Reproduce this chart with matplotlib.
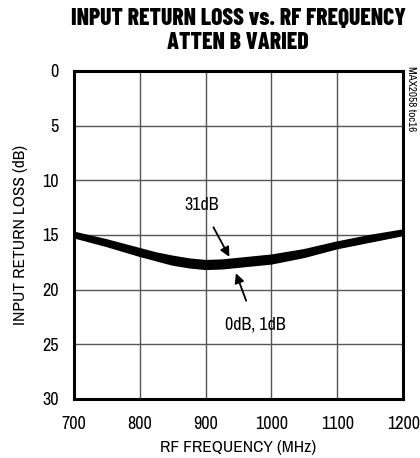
import matplotlib
matplotlib.use("Agg")
import matplotlib.pyplot as plt

narrow = ["Archivo Narrow", "Barlow Condensed", "DejaVu Sans"]
heavy = ["Barlow Condensed", "Asap Condensed", "DejaVu Sans"]

freq = [700, 725, 750, 775, 800, 825, 850, 875, 900, 925, 950, 975, 1000,
        1025, 1050, 1075, 1100, 1125, 1150, 1175, 1200]
rl_31db = [14.8, 15.15, 15.5, 15.9, 16.3, 16.7, 17.0, 17.25, 17.4, 17.35, 17.2, 17.05, 16.9,
           16.65, 16.4, 16.05, 15.7, 15.4, 15.1, 14.85, 14.6]
rl_1db = [15.0, 15.4, 15.8, 16.2, 16.6, 17.0, 17.4, 17.65, 17.8, 17.75, 17.6, 17.45, 17.3,
          17.0, 16.7, 16.35, 16.0, 15.7, 15.4, 15.1, 14.85]
rl_0db = [15.2, 15.6, 16.0, 16.45, 16.9, 17.3, 17.7, 17.95, 18.1, 18.05, 17.9, 17.75, 17.6,
          17.3, 17.0, 16.6, 16.2, 15.9, 15.6, 15.3, 15.0]

xticks = [700, 800, 900, 1000, 1100, 1200]
yticks = [0, 5, 10, 15, 20, 25, 30]

fig = plt.figure(figsize=(4.2, 4.58), dpi=100)
ax = fig.add_axes([0.176, 0.129, 0.784, 0.716])

ax.fill_between(freq, rl_31db, rl_0db, color="black", lw=0)
for s in (rl_31db, rl_1db, rl_0db):
    ax.plot(freq, s, color="black", lw=1.8)

ax.set_xlim(700, 1200)
ax.set_ylim(30, 0)
ax.set_xticks(xticks)
ax.set_yticks(yticks)
ax.grid(True, color="#555555", lw=1.0)
ax.set_axisbelow(True)
for sp in ax.spines.values():
    sp.set_linewidth(2.2)
ax.tick_params(axis="x", length=0, pad=12, labelsize=13)
ax.tick_params(axis="y", length=0, pad=11, labelsize=13)
for lab in ax.get_xticklabels() + ax.get_yticklabels():
    lab.set_family(narrow)

ax.set_xlabel("RF FREQUENCY (MHz)", fontsize=12.5, family=narrow, labelpad=6)
ax.set_ylabel("INPUT RETURN LOSS (dB)", fontsize=12.5, family=narrow, labelpad=10)

fig.text(0.567, 0.958, "INPUT RETURN LOSS vs. RF FREQUENCY", ha="center", va="center",
         fontsize=17, fontweight=800, family=heavy)
fig.text(0.567, 0.906, "ATTEN B VARIED", ha="center", va="center",
         fontsize=17, fontweight=800, family=heavy)
fig.text(0.978, 0.785, "MAX2058 toc16", rotation=270, ha="center", va="center",
         fontsize=8, family=narrow)

ax.annotate("31dB", xy=(936, 17.0), xytext=(894, 12.3), fontsize=13, family=narrow,
            ha="center", va="center",
            arrowprops=dict(arrowstyle="-|>", color="black", lw=1.3, mutation_scale=14,
                            shrinkA=9, shrinkB=0))
ax.annotate("0dB, 1dB", xy=(946, 18.5), xytext=(975, 23.2), fontsize=13, family=narrow,
            ha="center", va="center",
            arrowprops=dict(arrowstyle="-|>", color="black", lw=1.3, mutation_scale=14,
                            shrinkA=10, shrinkB=0))

fig.savefig("out.png", dpi=100)
